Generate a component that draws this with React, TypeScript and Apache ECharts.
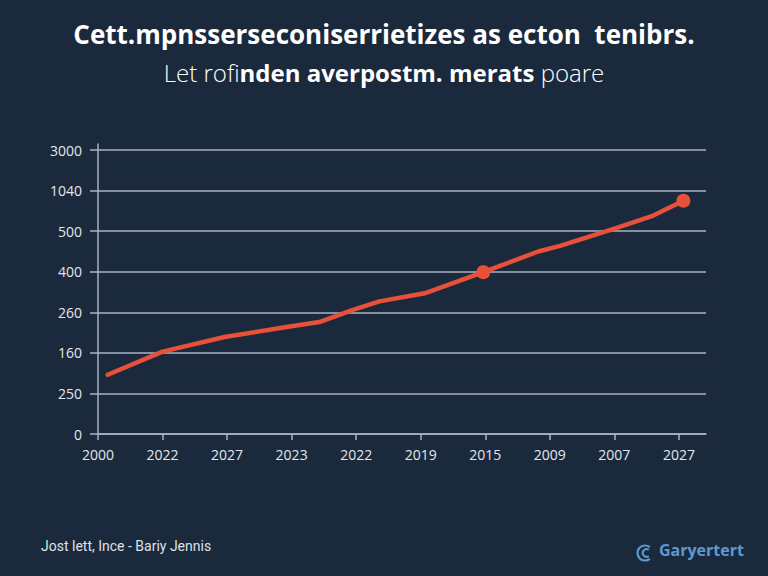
import React, { useEffect, useRef } from "react";
import * as echarts from "echarts";

// Axis tick labels
const xLabels = ["2000", "2022", "2027", "2023", "2022", "2019", "2015", "2009", "2007", "2027"];
const yLabels = ["0", "250", "160", "260", "400", "500", "1040", "3000"];

// Trend line: position along the x ticks, level on the y ticks
const trendX = [0.15, 1.0, 1.96, 2.97, 3.43, 3.95, 4.36, 5.06, 5.97, 6.82, 7.16, 7.99, 8.58, 9.07];
const trendY = [1.46, 2.03, 2.39, 2.65, 2.76, 3.06, 3.27, 3.47, 3.99, 4.5, 4.64, 5.06, 5.37, 5.75];
// Indices of the highlighted points
const markedPoints = [8, 13];

const BG = "#1b293c";
const LINE = "#e9503a";
const GRID = "#a9b3c2";
const TEXT = "#e3e7ec";
const FONT = "'Open Sans', 'Noto Sans', sans-serif";

export default function App() {
  const ref = useRef<HTMLDivElement>(null);

  useEffect(() => {
    if (!ref.current) return;
    const chart = echarts.init(ref.current, undefined, { renderer: "svg" });

    const data = trendX.map((x, i) => {
      const marked = markedPoints.includes(i);
      return {
        value: [x, trendY[i]],
        symbol: marked ? "circle" : "none",
        symbolSize: marked ? 14 : 0,
      };
    });

    chart.setOption({
      animation: false,
      backgroundColor: BG,
      title: [
        {
          text: "Cett.mpnsserseconiserrietizes as ecton  tenibrs.",
          left: "center",
          top: 16,
          textStyle: { color: "#ffffff", fontSize: 26, fontWeight: "bold", fontFamily: FONT },
        },
        {
          text: "{n|Let rofi}{b|nden averpostm. merats}{n| poare}",
          left: "center",
          top: 55,
          textStyle: {
            rich: {
              n: { color: "#ffffff", fontSize: 24, fontWeight: 300, fontFamily: FONT },
              b: { color: "#ffffff", fontSize: 24, fontWeight: "bold", fontFamily: FONT },
            },
          },
        },
      ],
      grid: { left: 98, right: 62, top: 144, bottom: 142, containLabel: false },
      xAxis: {
        type: "value",
        min: 0,
        max: 9.42,
        interval: 1,
        axisLine: { lineStyle: { color: GRID, width: 1.5 } },
        axisTick: {
          show: true,
          length: 6,
          lineStyle: { color: GRID, width: 1.5 },
          customValues: xLabels.map((_, i) => i),
        },
        axisLabel: {
          color: TEXT,
          fontSize: 14,
          fontFamily: FONT,
          margin: 13,
          customValues: xLabels.map((_, i) => i),
          formatter: (v: number) => xLabels[Math.round(v)] ?? "",
        },
        splitLine: { show: false },
      },
      yAxis: {
        type: "value",
        min: 0,
        max: 7.15,
        interval: 1,
        axisLine: { show: true, lineStyle: { color: GRID, width: 1.5 } },
        axisTick: {
          show: true,
          length: 8,
          lineStyle: { color: GRID, width: 1.5 },
          customValues: yLabels.map((_, i) => i),
        },
        axisLabel: {
          color: TEXT,
          fontSize: 14,
          fontFamily: FONT,
          margin: 16,
          customValues: yLabels.map((_, i) => i),
          formatter: (v: number) => yLabels[Math.round(v)] ?? "",
        },
        splitLine: { show: true, lineStyle: { color: GRID, width: 1.5 } },
      },
      series: [
        {
          type: "line",
          data,
          showSymbol: true,
          lineStyle: { color: LINE, width: 4.5, cap: "round", join: "round" },
          itemStyle: { color: LINE },
          z: 5,
        },
      ],
      graphic: [
        {
          type: "text",
          left: 41,
          top: 539,
          style: {
            text: "Jost lett, Ince - Bariy Jennis",
            fill: "#dde2e8",
            fontSize: 14,
            fontFamily: "Roboto, sans-serif",
          },
        },
        {
          type: "arc",
          shape: { cx: 645, cy: 553, r: 7.5, startAngle: Math.PI * 0.28, endAngle: Math.PI * 1.72, clockwise: true },
          style: { stroke: "#5b9bd0", lineWidth: 2.2, fill: "none" },
        },
        {
          type: "arc",
          shape: { cx: 646.5, cy: 553, r: 3.8, startAngle: Math.PI * 0.3, endAngle: Math.PI * 1.7, clockwise: true },
          style: { stroke: "#5b9bd0", lineWidth: 2, fill: "none" },
        },
        {
          type: "text",
          left: 659,
          top: 542,
          style: {
            text: "Garyertert",
            fill: "#5b9bd0",
            fontSize: 16,
            fontWeight: "bold",
            fontFamily: FONT,
          },
        },
      ],
    });

    return () => chart.dispose();
  }, []);

  return <div ref={ref} style={{ width: 768, height: 576, position: "absolute", left: 0, top: 0 }} />;
}
